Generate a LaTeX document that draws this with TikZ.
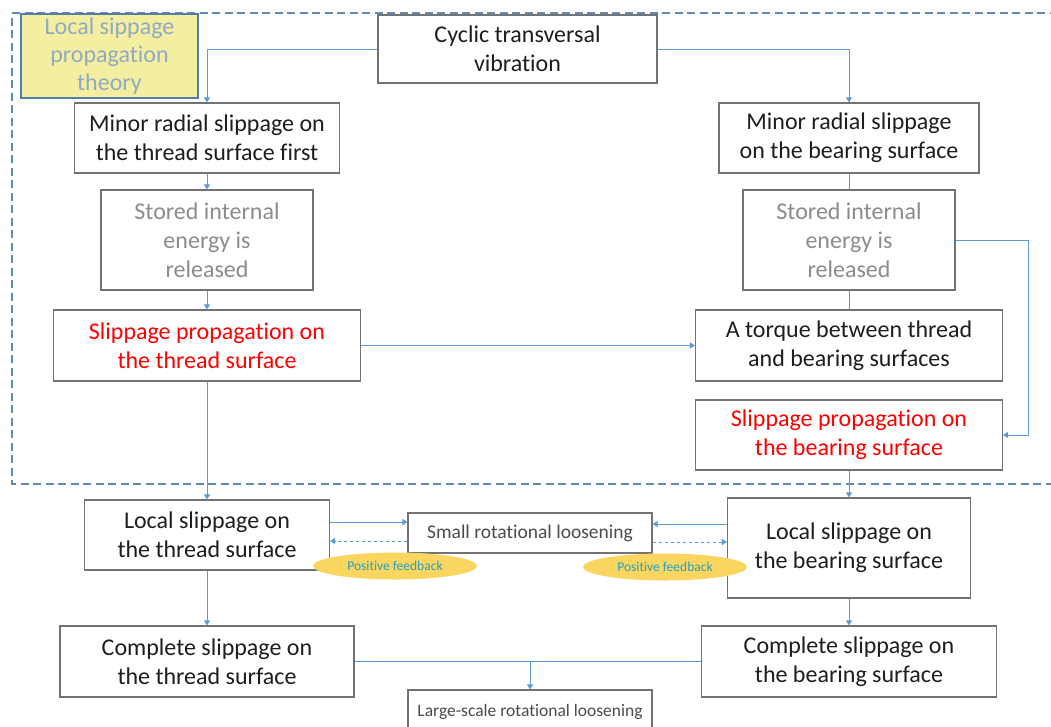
\documentclass[tikz,border=0pt]{standalone}
\usepackage{fontspec}
\setmainfont{Carlito}[Ligatures=NoCommon]
\usetikzlibrary{arrows.meta,shapes.geometric}
\definecolor{flowblue}{RGB}{91,155,213}
\definecolor{framblue}{RGB}{96,138,184}
\definecolor{boxgray}{RGB}{115,115,115}
\definecolor{txtgray}{RGB}{140,140,140}
\definecolor{txtdark}{RGB}{30,30,30}
\definecolor{theoryfill}{RGB}{244,239,160}
\definecolor{theoryedge}{RGB}{80,125,170}
\definecolor{theorytxt}{RGB}{143,170,196}
\definecolor{fbfill}{RGB}{250,214,96}
\definecolor{fbtxt}{RGB}{40,160,190}

\begin{document}
\begin{tikzpicture}[x=1pt,y=1pt,
  box/.style={draw=boxgray,line width=1.1pt,fill=white,align=center,inner sep=0pt,
    text=txtdark,font=\fontsize{24}{29}\selectfont},
  graybox/.style={box,text=txtgray},
  redbox/.style={box,text=red},
  smallbox/.style={box,font=\fontsize{19.5}{22}\selectfont,text=txtdark!80},
  flow/.style={draw=flowblue,line width=0.9pt,-{Triangle[width=6pt,length=5pt]}},
  link/.style={draw=flowblue,line width=0.9pt},
  fb/.style={ellipse,fill=fbfill,minimum width=164pt,minimum height=27pt,inner sep=0pt,
    text=fbtxt,font=\fontsize{13.5}{15}\selectfont}]
  \useasboundingbox (0,0) rectangle (1051,-726);
  \clip (0,0) rectangle (1051,-726);
  \draw[framblue,line width=1.6pt,dash pattern=on 8pt off 4.5pt] (1070,-13) -- (12,-13) -- (12,-484) -- (1070,-484);
  \node[box,minimum width=279pt,minimum height=68pt] (cyclic) at (517.5,-49) {Cyclic transversal\\vibration};
  \node[draw=theoryedge,line width=1.1pt,fill=theoryfill,text=theorytxt,align=center,inner sep=0pt,
    minimum width=177pt,minimum height=84pt,font=\fontsize{24}{28}\selectfont] (theory) at (109.5,-56) {Local sippage\\propagation\\theory};
  \node[box,minimum width=265pt,minimum height=70pt] (minorT) at (207,-138) {Minor radial slippage on\\the thread surface first};
  \node[box,minimum width=260pt,minimum height=70pt] (minorB) at (849,-138) {Minor radial slippage\\on the bearing surface};
  \node[graybox,minimum width=212pt,minimum height=100pt] (storedT) at (207,-240) {Stored internal\\energy is\\released};
  \node[graybox,minimum width=212pt,minimum height=100pt] (storedB) at (849,-240) {Stored internal\\energy is\\released};
  \node[redbox,minimum width=307pt,minimum height=71pt] (slipT) at (207,-345.5) {Slippage propagation on\\the thread surface};
  \node[box,minimum width=307pt,minimum height=71pt] (torque) at (849,-345.5) {A torque between thread\\and bearing surfaces};
  \node[redbox,minimum width=307pt,minimum height=70pt] (slipB) at (849,-435) {Slippage propagation on\\the bearing surface};
  \node[box,minimum width=245pt,minimum height=70pt] (localT) at (207,-535) {Local slippage on\\the thread surface};
  \node[smallbox,minimum width=244pt,minimum height=40pt] (small) at (530,-533) {Small rotational loosening};
  \node[box,minimum width=243pt,minimum height=100pt] (localB) at (849,-548) {Local slippage on\\the bearing surface};
  \node[box,minimum width=294pt,minimum height=71pt] (compT) at (207,-661.5) {Complete slippage on\\the thread surface};
  \node[box,minimum width=295pt,minimum height=71pt] (compB) at (849,-661.5) {Complete slippage on\\the bearing surface};
  \node[smallbox,minimum width=244pt,minimum height=44pt,font=\fontsize{17.5}{20}\selectfont] (large) at (530,-712) {Large-scale rotational loosening};
  \draw[flow] (cyclic.west) -| (minorT.north);
  \draw[flow] (cyclic.east) -| (minorB.north);
  \draw[flow] (minorT.south) -- (storedT.north);
  \draw[flow] (storedT.south) -- (slipT.north);
  \draw[link] (minorB.south) -- (storedB.north);
  \draw[link] (storedB.south) -- (torque.north);
  \draw[flow] (storedB.east) -- ++(73,0) |- (slipB.east);
  \draw[flow] (slipT.east) -- (torque.west);
  \draw[flow] (slipT.south) -- (localT.north);
  \draw[flow] (slipB.south) -- (localB.north);
  \coordinate (inT) at ([yshift=11pt]small.west);
  \coordinate (outT) at ([yshift=-8pt]small.west);
  \coordinate (inB) at ([yshift=9pt]small.east);
  \coordinate (outB) at ([yshift=-9pt]small.east);
  \draw[flow] (inT -| localT.east) -- (inT);
  \draw[flow,dashed] (outT) -- (outT -| localT.east);
  \draw[flow] (inB -| localB.west) -- (inB);
  \draw[flow,dashed] (outB) -- (outB -| localB.west);
  \draw[flow] (localT.south) -- (compT.north);
  \draw[flow] (localB.south) -- (compB.north);
  \draw[link] (compT.east) -- (compB.west);
  \draw[flow] (compT.east -| large.north) -- (large.north);
  \node[fb] (fbT) at (395,-566) {Positive feedback};
  \node[fb] (fbB) at (665,-567) {Positive feedback};
\end{tikzpicture}
\end{document}
